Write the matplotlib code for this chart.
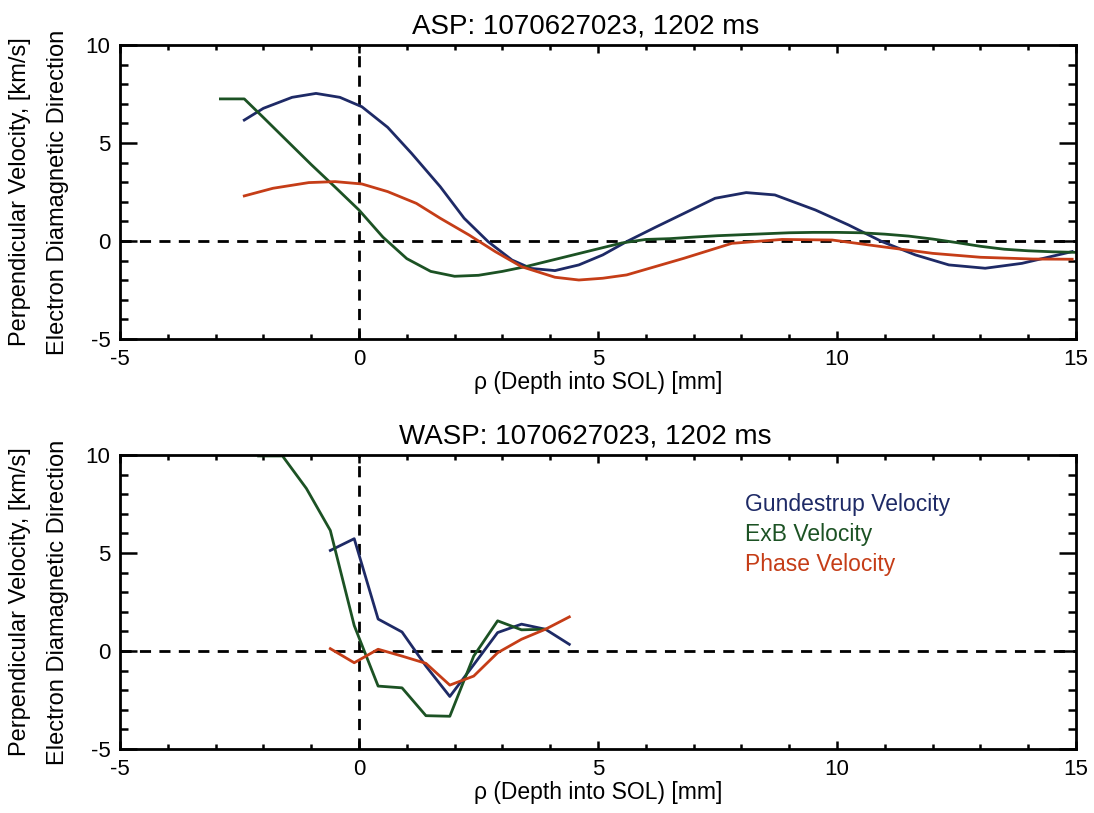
import numpy as np
import matplotlib
matplotlib.use("Agg")
import matplotlib.pyplot as plt
from matplotlib.ticker import MultipleLocator

plt.rcParams['font.family'] = ['Liberation Sans', 'DejaVu Sans']
plt.rcParams['axes.unicode_minus'] = False

# ASP (top panel)
asp_gund_x = [-2.4, -2.0, -1.4, -0.9, -0.4, 0.06, 0.6, 1.1, 1.7, 2.2, 2.7, 3.2, 3.6, 4.1, 4.6, 5.1,
              5.6, 6.2, 6.8, 7.45, 8.1, 8.7, 9.55, 10.24, 10.94, 11.64, 12.34, 13.1, 13.87, 14.92]
asp_gund_y = [6.17, 6.77, 7.33, 7.53, 7.33, 6.85, 5.8, 4.47, 2.77, 1.16, -0.03, -0.97, -1.4, -1.51, -1.22, -0.71,
              -0.03, 0.7, 1.41, 2.18, 2.47, 2.35, 1.58, 0.82, -0.03, -0.71, -1.22, -1.39, -1.14, -0.54]

asp_exb_x = [-2.9, -2.4, -2.0, -1.5, -1.0, -0.5, 0.0, 0.5, 1.0, 1.5, 2.0, 2.5, 3.0, 3.5, 4.0, 4.5,
             5.0, 5.5, 6.0, 6.5, 7.0, 7.5, 8.0, 8.5, 9.0, 9.5, 10.0, 10.5, 11.0, 11.5, 12.0, 12.5,
             13.0, 13.5, 14.0, 14.5, 15.0]
asp_exb_y = [7.25, 7.25, 6.3, 5.1, 3.9, 2.75, 1.58, 0.2, -0.9, -1.55, -1.8, -1.75, -1.55, -1.3, -1.0, -0.7,
             -0.4, -0.1, 0.08, 0.12, 0.2, 0.27, 0.32, 0.37, 0.42, 0.44, 0.44, 0.42, 0.35, 0.25, 0.1, -0.08,
             -0.27, -0.42, -0.5, -0.55, -0.58]

asp_phase_x = [-2.4, -1.8, -1.05, -0.5, 0.06, 0.6, 1.2, 1.7, 2.3, 2.85, 3.4, 4.1, 4.6, 5.1,
               5.6, 6.8, 7.8, 8.85, 9.9, 10.94, 12.0, 13.0, 14.1, 14.92]
asp_phase_y = [2.3, 2.69, 2.98, 3.03, 2.91, 2.52, 1.92, 1.16, 0.31, -0.54, -1.31, -1.85, -1.99, -1.9,
               -1.73, -0.88, -0.12, 0.08, 0.05, -0.29, -0.63, -0.83, -0.92, -0.93]

# WASP (bottom panel)
wasp_gund_x = [-0.6, -0.1, 0.4, 0.9, 1.4, 1.9, 2.4, 2.9, 3.4, 3.9, 4.4]
wasp_gund_y = [5.13, 5.73, 1.63, 0.97, -0.77, -2.32, -0.7, 0.94, 1.37, 1.11, 0.34]

wasp_exb_x = [-2.1, -1.6, -1.1, -0.6, -0.1, 0.4, 0.9, 1.4, 1.9, 2.4, 2.9, 3.4, 3.9]
wasp_exb_y = [9.95, 9.95, 8.29, 6.15, 1.3, -1.79, -1.88, -3.3, -3.33, -0.26, 1.54, 1.08, 1.11]

wasp_phase_x = [-0.6, -0.1, 0.4, 0.9, 1.4, 1.9, 2.4, 2.9, 3.4, 3.9, 4.4]
wasp_phase_y = [0.12, -0.6, 0.09, -0.26, -0.63, -1.74, -1.28, -0.09, 0.6, 1.11, 1.74]

titles = ["ASP: 1070627023, 1202 ms", "WASP: 1070627023, 1202 ms"]
legend_labels = ["Gundestrup Velocity", "ExB Velocity", "Phase Velocity"]
c_gund, c_exb, c_phase = '#1e2a66', '#1c5224', '#c53d17'

fig = plt.figure(figsize=(10.94, 8.13), dpi=100)
W, H = 1094, 813
ax_top = fig.add_axes([120 / W, 1 - 339 / H, 956 / W, 294 / H])
ax_bot = fig.add_axes([120 / W, 1 - 749 / H, 956 / W, 294 / H])

panels = [
    (ax_top, (asp_gund_x, asp_gund_y), (asp_exb_x, asp_exb_y), (asp_phase_x, asp_phase_y)),
    (ax_bot, (wasp_gund_x, wasp_gund_y), (wasp_exb_x, wasp_exb_y), (wasp_phase_x, wasp_phase_y)),
]

for i, (ax, g, e, p) in enumerate(panels):
    ax.plot(g[0], g[1], color=c_gund, lw=2)
    ax.plot(e[0], e[1], color=c_exb, lw=2)
    ax.plot(p[0], p[1], color=c_phase, lw=2)
    ax.axhline(0, color='k', lw=2, ls=(0, (4, 3)), zorder=1)
    ax.axvline(0, color='k', lw=2, ls=(0, (4, 3)), zorder=1)
    ax.set_xlim(-5, 15)
    ax.set_ylim(-5, 10)
    ax.xaxis.set_major_locator(MultipleLocator(5))
    ax.xaxis.set_minor_locator(MultipleLocator(1))
    ax.yaxis.set_major_locator(MultipleLocator(5))
    ax.yaxis.set_minor_locator(MultipleLocator(1))
    ax.tick_params(axis='both', which='both', direction='in', top=True, right=True,
                   labelsize=16, width=1.8, pad=7)
    ax.tick_params(axis='x', which='major', length=6)
    ax.tick_params(axis='x', which='minor', length=3.5)
    ax.tick_params(axis='y', which='major', length=12)
    ax.tick_params(axis='y', which='minor', length=6)
    for s in ax.spines.values():
        s.set_linewidth(2)
    ax.set_title(titles[i], fontsize=20, pad=8, x=0.487)
    ax.set_xlabel("\u03c1 (Depth into SOL) [mm]", fontsize=16.5, labelpad=1)

# y labels as two separate lines
for ax in (ax_top, ax_bot):
    pos = ax.get_position()
    yc = (pos.y0 + pos.y1) / 2
    fig.text(20 / W, yc, "Perpendicular Velocity, [km/s]", rotation=90, ha='center', va='center', fontsize=17)
    fig.text(58 / W, yc, "Electron Diamagnetic Direction", rotation=90, ha='center', va='center', fontsize=17)

for lbl, col, yv in zip(legend_labels, [c_gund, c_exb, c_phase], [7.13, 5.6, 4.1]):
    ax_bot.text(8.08, yv, lbl, color=col, fontsize=16.5, va='baseline', ha='left')

fig.savefig("out.png", dpi=100)
